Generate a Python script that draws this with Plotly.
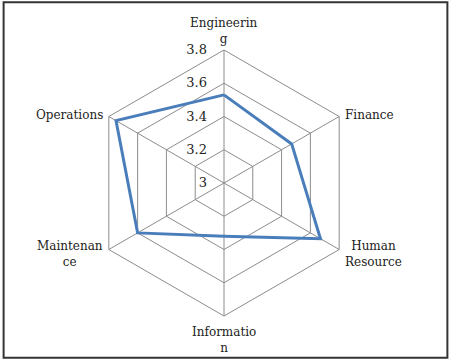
import math
import plotly.graph_objects as go

categories = ["Engineering", "Finance", "Human Resource", "Information", "Maintenance", "Operations"]
label_text = ["Engineerin<br>g", "Finance", "Human<br>Resource", "Informatio<br>n", "Maintenan<br>ce", "Operations"]
values = [3.53, 3.47, 3.67, 3.32, 3.60, 3.75]
tick_vals = [3, 3.2, 3.4, 3.6, 3.8]
tick_text = ["3", "3.2", "3.4", "3.6", "3.8"]

FONT = "DejaVu Serif"
FS = 12

fig = go.Figure()
fig.add_trace(go.Scatterpolar(
    r=values + values[:1],
    theta=categories + categories[:1],
    mode="lines",
    line=dict(color="#4A7EBB", width=3),
    showlegend=False,
))

W, H = 451, 360
cx, cy, R = 224, 183, 133

annotations = []
n = len(categories)
for i, txt in enumerate(label_text):
    ang = math.radians(90 - 360 / n * i)
    vx = cx + R * math.cos(ang)
    vy = cy - R * math.sin(ang)
    c = math.cos(ang)
    s = math.sin(ang)
    if abs(c) < 0.1:
        xa, px = "center", vx
        if s > 0:
            ya, py = "bottom", vy - 2
        else:
            ya, py = "top", vy + 7
    else:
        xa = "left" if c > 0 else "right"
        px = vx + (4 if c > 0 else -4)
        ya = "middle"
        py = vy + (-1 if s > 0 else 4)
    annotations.append(dict(
        text=txt, x=px / W, y=1 - py / H, xref="paper", yref="paper",
        xanchor=xa, yanchor=ya, showarrow=False, align="center",
        font=dict(family=FONT, size=FS, color="#222222"),
    ))

fig.update_layout(
    width=W, height=H,
    margin=dict(l=0, r=0, t=0, b=0),
    paper_bgcolor="white",
    font=dict(family=FONT, size=FS, color="#222222"),
    polar=dict(
        domain=dict(x=[(cx - R) / W, (cx + R) / W], y=[(H - cy - R) / H, (H - cy + R) / H]),
        bgcolor="white",
        gridshape="linear",
        angularaxis=dict(
            rotation=90, direction="clockwise",
            showline=True, linecolor="#8C8C8C", linewidth=1,
            gridcolor="#8C8C8C", gridwidth=1,
            ticks="", showticklabels=False,
        ),
        radialaxis=dict(
            range=[3, 3.8], tickvals=tick_vals, ticktext=tick_text,
            angle=90, tickangle=90, side="counterclockwise",
            showline=False, ticks="outside", ticklen=12, tickcolor="rgba(0,0,0,0)",
            gridcolor="#8C8C8C", gridwidth=1,
            tickfont=dict(family=FONT, size=FS + 1, color="#222222"),
        ),
    ),
    annotations=annotations,
    shapes=[dict(type="rect", xref="paper", yref="paper", x0=0.008, x1=0.992, y0=0.006, y1=0.994,
                 line=dict(color="#333333", width=2))],
)

fig.write_html("out.html")
